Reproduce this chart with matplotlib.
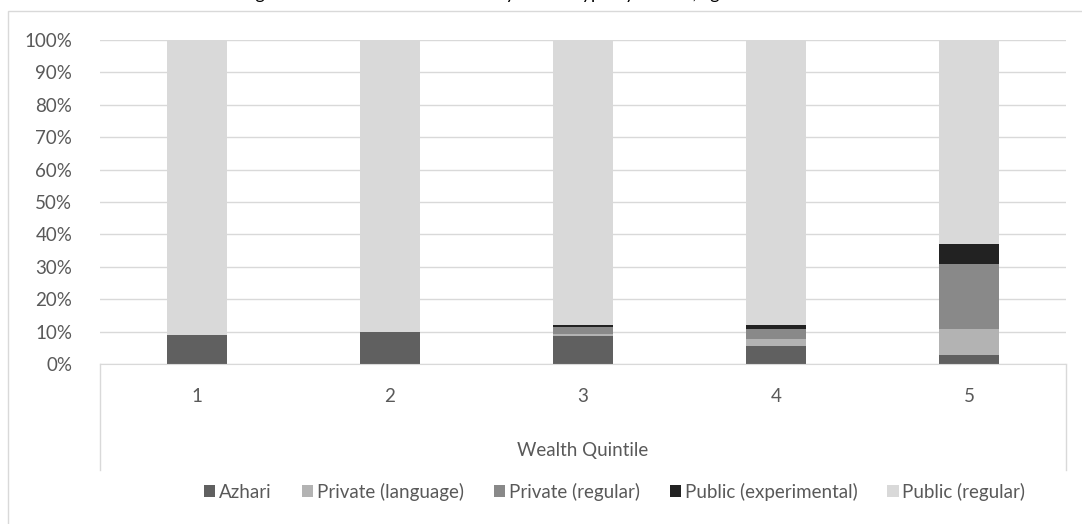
import matplotlib.pyplot as plt
from matplotlib.lines import Line2D
from matplotlib.patches import Rectangle
import numpy as np

plt.rcParams['font.family'] = ['Lato', 'DejaVu Sans']

quintiles = ['1', '2', '3', '4', '5']
school_types = ['Azhari', 'Private (language)', 'Private (regular)',
                'Public (experimental)', 'Public (regular)']
azhari = [9.0, 10.0, 8.6, 5.7, 2.7]
private_language = [0.0, 0.0, 0.8, 2.1, 8.1]
private_regular = [0.0, 0.0, 2.0, 3.1, 20.2]
public_experimental = [0.0, 0.0, 0.5, 1.0, 6.0]
public_regular = [91.0, 90.0, 88.1, 88.1, 63.0]
colors = ['#606060', '#b3b3b3', '#898989', '#222222', '#d9d9d9']

W, H = 1082, 524
fig = plt.figure(figsize=(W / 100, H / 100), dpi=100)
fig.patch.set_facecolor('white')

# chart frame (clipped on the right and bottom)
fig.patches.append(Rectangle((8 / W, -0.1), 1.2, 1.1 - 11 / H, transform=fig.transFigure,
                             fill=False, edgecolor='#d9d9d9', linewidth=1))

# title sits mostly above the visible area
fig.text(510 / W, 1 + 1.5 / H, 'Figure 6: Enrollment of children by school type by wealth, ages 6-18',
         ha='center', va='baseline', fontsize=13, color='black')

x0, x1 = 100 / W, 1066 / W
y0, y1 = 1 - 364 / H, 1 - 40 / H
ax = fig.add_axes([x0, y0, x1 - x0, y1 - y0])

series = [azhari, private_language, private_regular, public_experimental, public_regular]
x = np.arange(len(quintiles))
bottom = np.zeros(len(quintiles))
for name, vals, c in zip(school_types, series, colors):
    ax.bar(x, vals, bottom=bottom, width=0.31, color=c, label=name, zorder=2)
    bottom += np.array(vals)

ax.set_xlim(-0.5, len(quintiles) - 0.5)
ax.set_ylim(0, 100)
ax.set_yticks(range(0, 101, 10))
ax.set_yticklabels([f'{v}%' for v in range(0, 101, 10)])
ax.yaxis.grid(True, color='#d9d9d9', linewidth=1, zorder=0)
ax.set_axisbelow(True)
for s in ['top', 'right', 'left']:
    ax.spines[s].set_visible(False)
ax.spines['bottom'].set_color('#d9d9d9')
ax.tick_params(axis='y', length=0, labelsize=13.5, labelcolor='#595959', pad=20)
ax.set_xticks(x)
ax.set_xticklabels(quintiles)
ax.tick_params(axis='x', length=0, labelsize=13.5, labelcolor='#595959', pad=17)
ax.set_xlabel('Wealth Quintile', fontsize=13.5, color='#595959', labelpad=27)

# category axis side borders
for xe in (x0, x1):
    fig.lines.append(Line2D([xe, xe], [y0, 1 - 470 / H], transform=fig.transFigure,
                            color='#d9d9d9', linewidth=1))

handles, labels = ax.get_legend_handles_labels()
fig.legend(handles, labels, loc='center', bbox_to_anchor=(0.568, 1 - 492 / H), ncol=5,
           frameon=False, fontsize=13.5, labelcolor='#595959', handlelength=0.6,
           handleheight=0.6, handletextpad=0.2, columnspacing=1.6)

fig.savefig('out.png', dpi=100)
